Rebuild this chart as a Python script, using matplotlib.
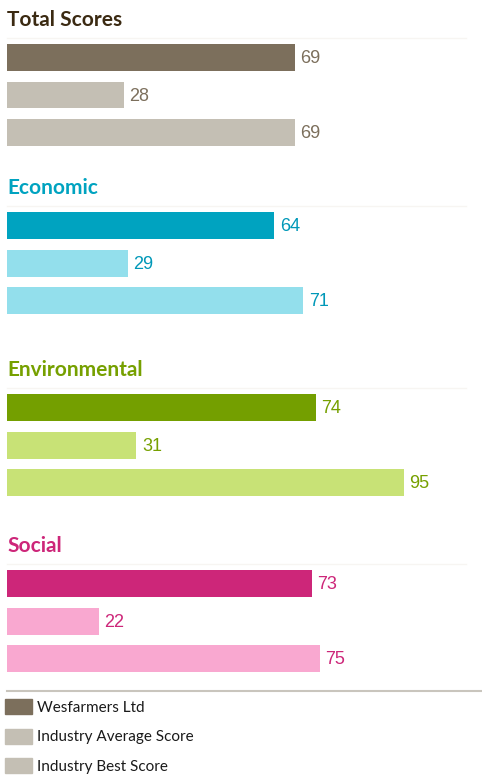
import matplotlib
matplotlib.use('agg')
import matplotlib.pyplot as plt
from matplotlib.patches import Rectangle
from matplotlib.lines import Line2D

# data
groups = ['Total Scores', 'Economic', 'Environmental', 'Social']
wesfarmers = [69, 64, 74, 73]
industry_avg = [28, 29, 31, 22]
industry_best = [69, 71, 95, 75]
legend_labels = ['Wesfarmers Ltd', 'Industry Average Score', 'Industry Best Score']

# styling
dark_colors = ['#7c6f5c', '#00a3c0', '#749f00', '#cd2679']
light_colors = ['#c4bfb4', '#93dfec', '#c8e276', '#f9a8d0']
title_colors = ['#3b2a12', '#00a3c0', '#76a000', '#cd2679']
label_colors = ['#7c6f5c', '#0098b8', '#76a000', '#cd2679']
first_bar_px = [57.5, 225.5, 407.5, 583.5]  # centre of first bar, px from top

W, H = 482, 783
fig = plt.figure(figsize=(W / 100, H / 100), dpi=100)

step = 37.5
left, right = 7, 466
for i, g in enumerate(groups):
    top = first_bar_px[i] - 19.5
    bottom = first_bar_px[i] + 2 * step + 19
    ax = fig.add_axes([left / W, 1 - bottom / H, (right - left) / W, (bottom - top) / H])
    vals = [wesfarmers[i], industry_avg[i], industry_best[i]]
    cols = [dark_colors[i], light_colors[i], light_colors[i]]
    ax.barh(range(3), vals, height=27 / step, color=cols)
    ax.set_xlim(0, (right - left) / (288 / 69))
    ax.set_ylim((bottom - top - 19.5) / step, -19.5 / step)
    for j, v in enumerate(vals):
        ax.annotate(str(v), (v, j), xytext=(4, -1), textcoords='offset points',
                    va='center', ha='left', fontsize=13, color=label_colors[i],
                    family='Liberation Sans')
    for s in ['left', 'right', 'bottom']:
        ax.spines[s].set_visible(False)
    ax.spines['top'].set_color('#f7f5f2')
    ax.spines['top'].set_linewidth(1)
    ax.set_xticks([])
    ax.set_yticks([])
    fig.text(left / W, 1 - (first_bar_px[i] - 37.5) / H, g, fontsize=15,
             fontweight='bold', color=title_colors[i], family='Lato',
             va='center', ha='left')

# legend
fig.add_artist(Line2D([7 / W, 1], [1 - 691 / H, 1 - 691 / H], color='#c9c5bd', lw=1.5))
leg_cols = [dark_colors[0], light_colors[0], light_colors[0]]
for k, lab in enumerate(legend_labels):
    cy = 706.5 + k * 29.5
    fig.add_artist(Rectangle((5 / W, 1 - (cy + 7.5) / H), 27 / W, 15 / H,
                             color=leg_cols[k], transform=fig.transFigure))
    fig.text(37 / W, 1 - (cy + 1.5) / H, lab, fontsize=11, color='#1a1a1a',
             family='Lato', va='center', ha='left')

plt.savefig('out.png', dpi=100)
